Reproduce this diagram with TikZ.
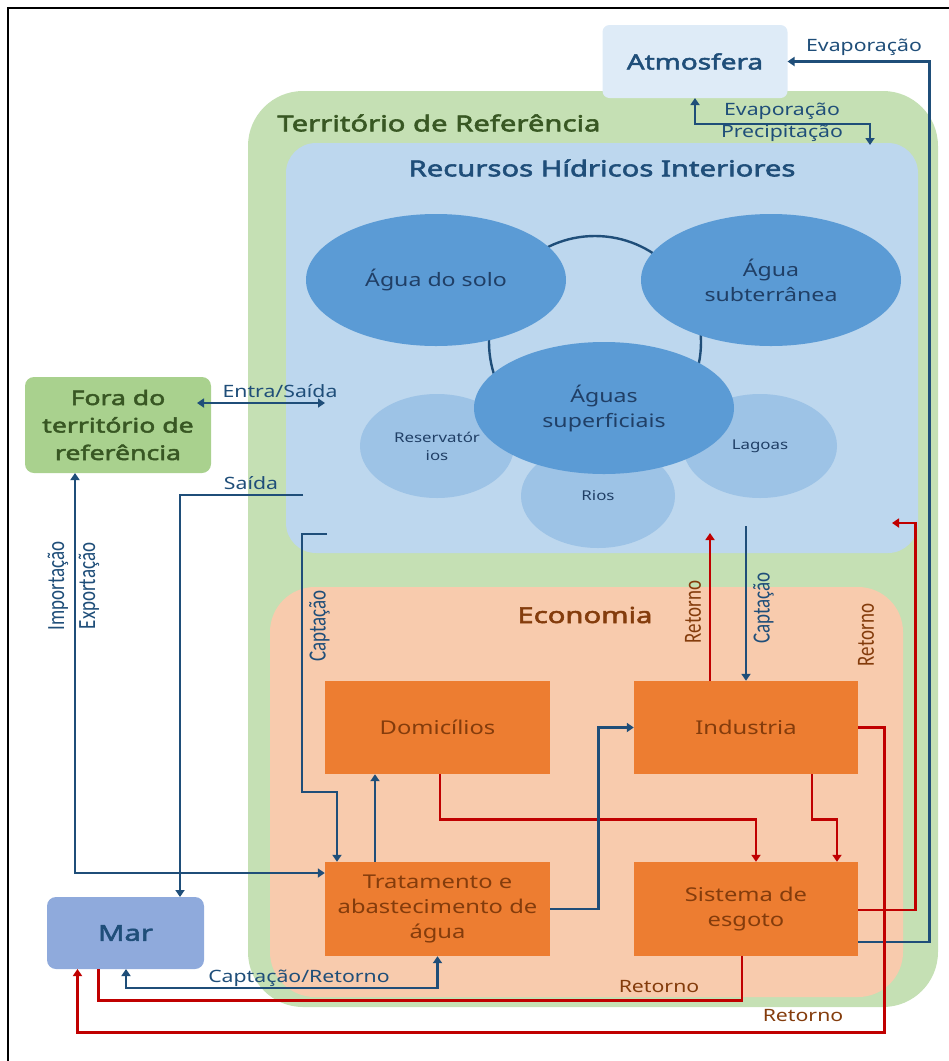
\documentclass[tikz,border=0pt]{standalone}
\usepackage{fontspec}
\setmainfont{Noto Sans}[UprightFeatures={FakeStretch=1.25},BoldFont={Noto Sans},BoldFeatures={FakeBold=2.5,FakeStretch=1.33}]
\newfontfamily\narrowfont{Carlito}
\newcommand\talltext[1]{\scalebox{1}[1.3]{#1}}
\usetikzlibrary{arrows.meta,shapes.geometric}
\definecolor{terrgreen}{HTML}{C5E0B4}
\definecolor{rhiblue}{HTML}{BDD7EE}
\definecolor{econbg}{HTML}{F8CBAD}
\definecolor{orbox}{HTML}{ED7D31}
\definecolor{bigell}{HTML}{5B9BD5}
\definecolor{smallell}{HTML}{9DC3E6}
\definecolor{atmbg}{HTML}{DEEBF7}
\definecolor{marbg}{HTML}{8FAADC}
\definecolor{forabg}{HTML}{A9D18E}
\definecolor{txtblue}{HTML}{1F4E79}
\definecolor{ellblue}{HTML}{203F66}
\definecolor{txtgreen}{HTML}{385723}
\definecolor{txtbrown}{HTML}{843C0C}
\definecolor{lineblue}{HTML}{1F4E79}
\definecolor{linered}{HTML}{C00000}
\begin{document}
\begin{tikzpicture}[x=1pt,y=-1pt,
  >={Triangle[length=7pt,width=9pt]},
  bg/.style={inner sep=0pt,outer sep=0pt},
  obox/.style={fill=orbox,minimum width=225pt,minimum height=94pt,inner sep=0pt,align=center,text=txtbrown,font=\fontsize{19}{25}\selectfont},
  bigel/.style={ellipse,fill=bigell,inner sep=0pt,minimum width=260pt,minimum height=132pt,align=center,text=ellblue,font=\fontsize{18.5}{25}\selectfont},
  smallel/.style={ellipse,fill=smallell,inner sep=0pt,minimum width=154pt,minimum height=104pt,align=center,text=ellblue,font=\fontsize{13.5}{18}\selectfont},
  title/.style={inner sep=0pt,font=\bfseries\fontsize{22}{26}\selectfont},
  lab/.style={inner sep=0pt,text=txtblue,font=\fontsize{17}{22}\selectfont,align=center},
  rlab/.style={inner sep=0pt,rotate=90,font=\narrowfont\fontsize{19}{22}\selectfont},
  bl/.style={draw=lineblue,line width=2.6pt},
  rd/.style={draw=linered,line width=2.6pt}]
\useasboundingbox (0,0) rectangle (949,1061);
% frame
\draw[line width=2pt] (8,1061) -- (8,8) -- (949,8);
% backgrounds
\node[bg,fill=terrgreen,rounded corners=55pt,minimum width=690pt,minimum height=916pt] (terr) at (593,549) {};
\node[bg,fill=rhiblue,rounded corners=30pt,minimum width=632pt,minimum height=410pt] (rhi) at (602,348) {};
\node[bg,fill=econbg,rounded corners=45pt,minimum width=633pt,minimum height=410pt] (econ) at (586.5,792) {};
\node[title,text=txtgreen] (terrT) at (439,123) {Território de Referência};
\node[title,text=txtblue] (rhiT) at (602,168) {Recursos Hídricos Interiores};
\node[title,text=txtbrown] (econT) at (585,615) {Economia};
% water bodies
\node[circle,draw=lineblue,line width=2.4pt,minimum size=212pt,inner sep=0pt] (ring) at (595,342) {};
\node[smallel] (res) at (437,446) {Reservatór\\ios};
\node[smallel] (rios) at (598,496) {Rios};
\node[smallel] (lag) at (760,446) {Lagoas};
\node[bigel] (solo) at (436,280) {Água do solo};
\node[bigel] (sub) at (771,280) {Água\\subterrânea};
\node[bigel] (sup) at (604,408) {Águas\\superficiais};
% outer boxes
\node[bg,fill=atmbg,rounded corners=7pt,minimum width=185pt,minimum height=73pt,text=txtblue,font=\bfseries\fontsize{21}{25}\selectfont] (atm) at (695,61.5) {Atmosfera};
\node[bg,fill=forabg,rounded corners=9pt,minimum width=186pt,minimum height=96pt,align=center,text=txtgreen,font=\bfseries\fontsize{20}{27.5}\selectfont] (fora) at (118,425) {Fora do\\território de\\referência};
\node[bg,fill=marbg,rounded corners=9pt,minimum width=157pt,minimum height=72pt,text=txtblue,font=\bfseries\fontsize{22}{26}\selectfont] (mar) at (125.5,933) {Mar};
% economy boxes
\node[obox,minimum height=93pt] (dom) at (437.5,727.5) {Domicílios};
\node[obox,minimum width=224pt,minimum height=93pt] (ind) at (746,727.5) {Industria};
\node[obox] (trat) at (437.5,909) {Tratamento e\\abastecimento de\\água};
\node[obox,minimum width=224pt] (sis) at (746,909) {Sistema de\\esgoto};
% free ends
\coordinate (precEnd) at (870,145);
\coordinate (entraEnd) at (325,403);
\coordinate (saidaStart) at (303,495);
\coordinate (captStart) at (327,534);
\coordinate (retEnd) at (892,523);
\coordinate (indRet) at (710,533);
\coordinate (indCapt) at (746,526);
% connectors
\draw[rd,->] ([yshift=-1pt]sis.east) -- ++(57,0) |- (retEnd);
\draw[bl,->] ([yshift=-33pt]sis.east) -- ++(71,0) |- (atm.east);
\draw[bl,<->] (atm.south) -- ++(0,26) -| (precEnd);
\draw[bl,<->] ([xshift=-14pt,yshift=22pt]fora.east) -- (entraEnd);
\draw[bl,->] (saidaStart) -| ([xshift=54.5pt]mar.north);
\draw[bl,->] (captStart) -- ++(-25,0) -- ++(0,258) -| ([xshift=-100.5pt]trat.north);
\draw[bl,->] ([xshift=-62.5pt]trat.north) -- ([xshift=-62.5pt]dom.south);
\draw[rd,->] ([xshift=2.5pt]dom.south) -- ++(0,45) -| ([xshift=10pt]sis.north);
\draw[bl,->] (trat.east) -- ++(48,0) |- (ind.west);
\draw[rd,->] ([xshift=66pt]ind.south) -- ++(0,45) -| ([xshift=91pt]sis.north);
\draw[rd] ([xshift=-4pt]sis.south) -- ++(0,44) -| ([xshift=-27pt]mar.south);
\draw[bl,<->] ([xshift=0.5pt]mar.south) -- ++(0,19) -| (trat.south);
\draw[bl,<->] ([xshift=-43pt]fora.south) |- ([yshift=36pt]trat.west);
\draw[rd,->] ([xshift=-36pt]ind.north) -- (indRet);
\draw[bl,->] (indCapt) -- (ind.north);
\draw[rd,->] (ind.east) -- ++(26,0) -- ++(0,305) -| ([xshift=-48pt]mar.south);
% labels
\node[lab] (lEv1) at (864,47) {Evaporação};
\node[lab] (lEv2) at (782,111) {Evaporação};
\node[lab] (lPr) at (782,133) {Precipitação};
\node[lab] (lEntra) at (280,391) {Entra/Saída};
\node[lab] (lSaida) at (251,483) {Saída};
\node[lab] (lCR) at (299,978) {Captação/Retorno};
\node[lab,text=txtbrown] (lRet1) at (659,987) {Retorno};
\node[lab,text=txtbrown] (lRet2) at (803,1016) {Retorno};
\node[rlab,text=txtblue] (lImp) at (58,586) {\talltext{Importação}};
\node[rlab,text=txtblue] (lExp) at (89,586) {\talltext{Exportação}};
\node[rlab,text=txtblue] (lCapL) at (319.5,626) {\talltext{Captação}};
\node[rlab,text=txtbrown] (lRetI) at (693,612) {\talltext{Retorno}};
\node[rlab,text=txtblue] (lCapI) at (763.5,608) {\talltext{Captação}};
\node[rlab,text=txtbrown] (lRetR) at (866,635) {\talltext{Retorno}};
\end{tikzpicture}
\end{document}
